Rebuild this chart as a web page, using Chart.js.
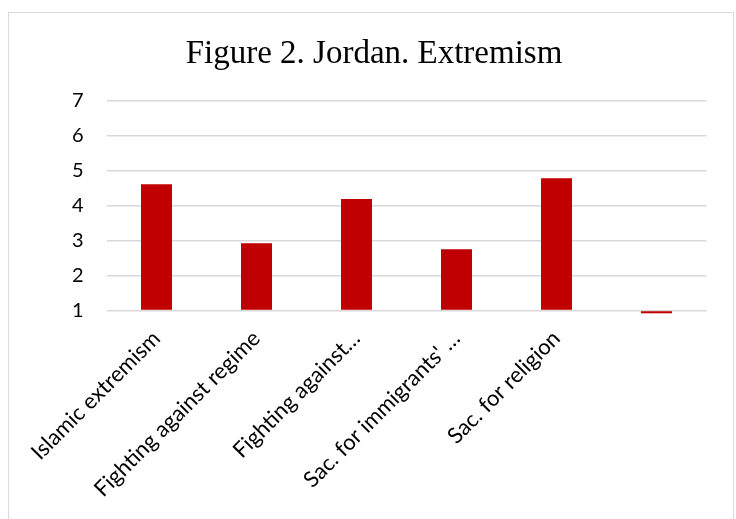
<!DOCTYPE html>
<html>
<head>
<meta charset="utf-8">
<script src="https://cdn.jsdelivr.net/npm/chart.js@4.4.1/dist/chart.umd.min.js"></script>
<style>
  html, body { margin: 0; padding: 0; background: #ffffff; }
  body { width: 736px; height: 519px; position: relative; overflow: hidden; }
  #frame {
    position: absolute; left: 8px; top: 12px; width: 726px; height: 520px;
    border: 1.5px solid #d9d9d9; box-sizing: border-box; background: #fff;
  }
  #wrap { position: absolute; left: 1px; top: 1px; width: 722px; height: 515px; }
</style>
</head>
<body>
<div id="frame"><div id="wrap"><canvas id="chart"></canvas></div></div>
<script>
// Categories and mean scores (scale 1–7)
const categories = [
  "Islamic extremism",
  "Fighting against regime",
  "Fighting against…",
  "Sac. for immigrants' …",
  "Sac. for religion",
  ""
];
const scores = [4.61, 2.92, 4.19, 2.75, 4.78, 0.92];
const yTicks = [1, 2, 3, 4, 5, 6, 7];

const ctx = document.getElementById('chart');
new Chart(ctx, {
  type: 'bar',
  data: {
    labels: categories,
    datasets: [{
      label: 'Extremism',
      data: scores,
      base: 1,
      clip: false,
      backgroundColor: '#c00000',
      borderWidth: 0,
      barPercentage: 0.31,
      categoryPercentage: 1
    }]
  },
  options: {
    responsive: true,
    maintainAspectRatio: false,
    animation: false,
    layout: { padding: { left: 31.5, right: 25.5, top: 10, bottom: 10 } },
    plugins: {
      legend: { display: false },
      tooltip: { enabled: false },
      title: {
        display: true,
        text: 'Figure 2. Jordan. Extremism',
        color: '#000000',
        font: { family: "'Liberation Serif', 'DejaVu Serif', serif", size: 33, weight: 'normal' },
        padding: { top: 11, bottom: 26 }
      }
    },
    scales: {
      x: {
        grid: { display: false, drawTicks: false },
        border: { display: false },
        afterFit: (axis) => { axis.height = 208.5; },
        ticks: {
          color: '#000000',
          minRotation: 45,
          maxRotation: 45,
          autoSkip: false,
          padding: 15,
          font: { family: "Lato, 'Open Sans', sans-serif", size: 22 }
        }
      },
      y: {
        min: 1,
        max: 7,
        afterBuildTicks: (axis) => { axis.ticks = yTicks.map(v => ({ value: v })); },
        afterFit: (axis) => { axis.width = 65; },
        grid: { color: '#d9d9d9', lineWidth: 1.5, drawTicks: false },
        border: { display: false },
        ticks: {
          color: '#000000',
          padding: 23,
          font: { family: "Lato, 'Open Sans', sans-serif", size: 20 }
        }
      }
    }
  }
});
</script>
</body>
</html>
